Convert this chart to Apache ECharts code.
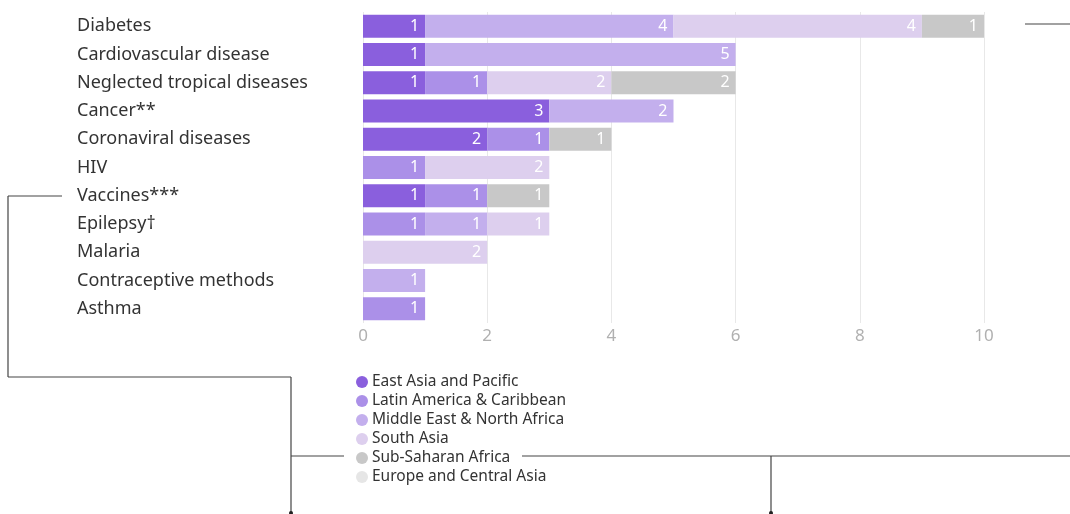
<!DOCTYPE html>
<html><head><meta charset="utf-8">
<script src="https://cdn.jsdelivr.net/npm/echarts@6/dist/echarts.min.js"></script>
<style>html,body{margin:0;padding:0;background:#fff}#c{width:1070px;height:514px}</style>
</head><body><div id="c"></div>
<script>
const categories = ["Diabetes","Cardiovascular disease","Neglected tropical diseases","Cancer**","Coronaviral diseases","HIV","Vaccines***","Epilepsy\u2020","Malaria","Contraceptive methods","Asthma"];
const regions = ["East Asia and Pacific","Latin America & Caribbean","Middle East & North Africa","South Asia","Sub-Saharan Africa","Europe and Central Asia"];
const eastAsiaPacific   = [1,1,1,3,2,null,1,null,null,null,null];
const latinAmerica      = [null,null,1,null,1,1,1,1,null,null,1];
const middleEastNAfrica = [4,5,null,2,null,null,null,1,null,1,null];
const southAsia         = [4,null,2,null,null,2,null,1,2,null,null];
const subSaharanAfrica  = [1,null,2,null,1,null,1,null,null,null,null];
const europeCentralAsia = [null,null,null,null,null,null,null,null,null,null,null];
const xTicks = [0,2,4,6,8,10];

const colors = ["#8a5fdd","#ab90e8","#c3afed","#ddcfee","#c8c8c8","#e6e6e6"];
const seriesData = [eastAsiaPacific,latinAmerica,middleEastNAfrica,southAsia,subSaharanAfrica,europeCentralAsia];
const FONT = "Noto Sans";

const chart = echarts.init(document.getElementById('c'), null, {renderer:'canvas'});
const lineStyle = {stroke:'#444', lineWidth:1.2};
function seg(x1,y1,x2,y2){return {type:'line', shape:{x1,y1,x2,y2}, style:lineStyle, silent:true};}
chart.setOption({
  animation:false,
  textStyle:{fontFamily:FONT},
  grid:{left:363, right:86, top:12, height:311, containLabel:false},
  xAxis:{type:'value', min:xTicks[0], max:xTicks[xTicks.length-1], interval:2,
    axisLine:{show:false}, axisTick:{show:false},
    splitLine:{lineStyle:{color:'#e8e8e8', width:1}},
    axisLabel:{color:'#b0b0b0', fontSize:17, margin:5, fontFamily:FONT}},
  yAxis:{type:'category', data:categories, inverse:true,
    axisLabel:{align:'left', margin:286, color:'#333', fontSize:18, fontFamily:FONT},
    axisLine:{show:false}, axisTick:{show:false}},
  legend:{orient:'vertical', left:351, top:369, itemWidth:12, itemHeight:12, itemGap:3,
    icon:'circle', data:regions,
    textStyle:{color:'#333', fontSize:15.5, fontFamily:FONT, padding:[0,0,0,-1]}},
  series: regions.map((r,i)=>({
    name:r, type:'bar', stack:'total', barWidth:23, data:seriesData[i],
    itemStyle:{color:colors[i]},
    label:{show:true, position:'insideRight', color:'#fff', fontSize:16, distance:6,
      fontFamily:FONT, formatter:p=>p.value?String(p.value):''}
  })),
  graphic:[
    seg(1025,24,1070,24),
    seg(8,196,62,196), seg(8,196,8,377), seg(8,377,291,377), seg(291,377,291,514),
    seg(291,456,344,456),
    seg(522,456,1070,456), seg(771,456,771,514),
    {type:'circle', shape:{cx:291, cy:513, r:2}, style:{fill:'#222'}},
    {type:'circle', shape:{cx:771, cy:513, r:2}, style:{fill:'#222'}}
  ]
});
</script></body></html>
